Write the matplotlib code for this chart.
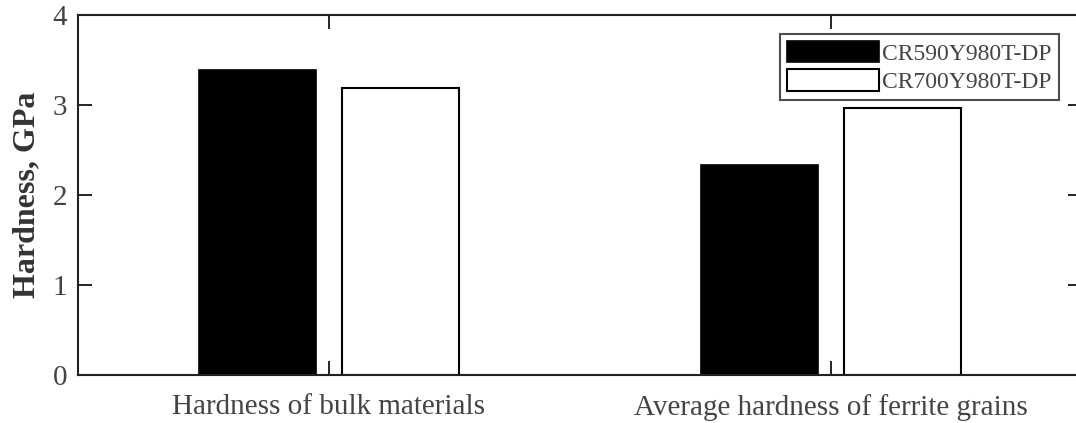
import numpy as np
import matplotlib.pyplot as plt

# Hardness values (GPa)
categories = ['Hardness of bulk materials', 'Average hardness of ferrite grains']
series_names = ['CR590Y980T-DP', 'CR700Y980T-DP']
cr590 = [3.39, 2.33]
cr700 = [3.19, 2.97]

plt.rcParams['font.family'] = 'Liberation Serif'

fig = plt.figure(figsize=(10.76, 4.23), dpi=100)
# right edge sits slightly past the image edge, as in the original crop
ax = fig.add_axes([78 / 1076, 1 - 375 / 423, (1082 - 78) / 1076, 360 / 423])

x = np.arange(1, len(categories) + 1)
width = 0.233
offset = 0.143

ax.bar(x - offset, cr590, width, color='black', edgecolor='black', linewidth=1.2,
       label=series_names[0])
ax.bar(x + offset, cr700, width, color='white', edgecolor='black', linewidth=1.5,
       label=series_names[1])

ax.set_xlim(0.5, 2.5)
ax.set_ylim(0, 4)
ax.set_yticks([0, 1, 2, 3, 4])
ax.set_xticks(x)
ax.set_xticklabels(categories)
ax.tick_params(direction='in', length=10, width=1.2, top=True, right=True,
               labelsize=21, labelcolor='#444444', pad=8)
ax.tick_params(axis='x', pad=14)
for side in ax.spines.values():
    side.set_linewidth(1.5)
    side.set_color('#222222')

ax.set_ylabel('Hardness, GPa', fontsize=23, fontweight='bold', color='#333333',
              labelpad=8)

leg = ax.legend(loc='upper right', bbox_to_anchor=(1059 / 1076, 1 - 34 / 423),
                bbox_transform=fig.transFigure, fontsize=17, frameon=True,
                fancybox=False, edgecolor='#222222', handlelength=3.9,
                handleheight=1.0, handletextpad=0.15, borderpad=0.3,
                labelspacing=0.2, borderaxespad=0)
leg.get_frame().set_linewidth(1.5)
for t in leg.get_texts():
    t.set_color('#444444')

plt.savefig('out.png', dpi=100)
